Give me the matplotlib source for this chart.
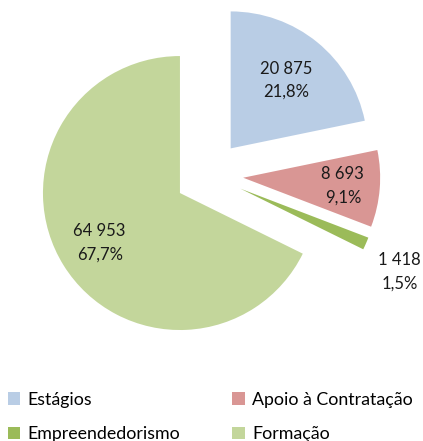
import numpy as np
import matplotlib.pyplot as plt

plt.rcParams['font.family'] = ['Lato', 'DejaVu Sans']

categorias = ['Estágios', 'Apoio à Contratação', 'Empreendedorismo', 'Formação']
valores = [20875, 8693, 1418, 64953]
cores = ['#B9CDE5', '#D99694', '#9BBB59', '#C3D69B']
# distancia do rotulo ao centro de cada fatia (em raios) e desvio angular (graus)
dist_rotulo = [0.64, 0.73, 1.31, 0.69]
desvio_rotulo = [0, 0, -4.0, 0]


def fmt_num(v):
	return '{:,}'.format(v).replace(',', ' ')


def fmt_pct(p):
	return '{:.1f}%'.format(p).replace('.', ',')


fig = plt.figure(figsize=(4.23, 4.41), dpi=100)
ax = fig.add_axes([0, 0, 1, 1])

total = sum(valores)
wedges, _ = ax.pie(valores, colors=cores, startangle=90, counterclock=False,
	explode=[0.25] * len(valores), radius=1.0,
	wedgeprops=dict(linewidth=0))

for w, v, d, da in zip(wedges, valores, dist_rotulo, desvio_rotulo):
	ang = np.deg2rad((w.theta1 + w.theta2) / 2 + da)
	cx, cy = w.center
	x = cx + d * np.cos(ang)
	y = cy + d * np.sin(ang)
	txt = fmt_num(v) + '\n' + fmt_pct(100.0 * v / total)
	ax.text(x, y, txt, ha='center', va='center', fontsize=12,
		color='#1a1a1a', linespacing=1.55)

ax.set_xlim(-1.526, 1.562)
ax.set_ylim(-1.942, 1.277)
ax.set_aspect('equal')
ax.axis('off')

ordem = [0, 2, 1, 3]
leg = fig.legend([wedges[i] for i in ordem], [categorias[i] for i in ordem],
	ncol=2, loc='upper left', bbox_to_anchor=(0.018, 0.112), frameon=False,
	fontsize=12.8, handlelength=0.7, handleheight=0.7, handletextpad=0.4,
	columnspacing=2.95, labelspacing=1.05, borderpad=0, borderaxespad=0)

fig.savefig('out.png', dpi=100)
